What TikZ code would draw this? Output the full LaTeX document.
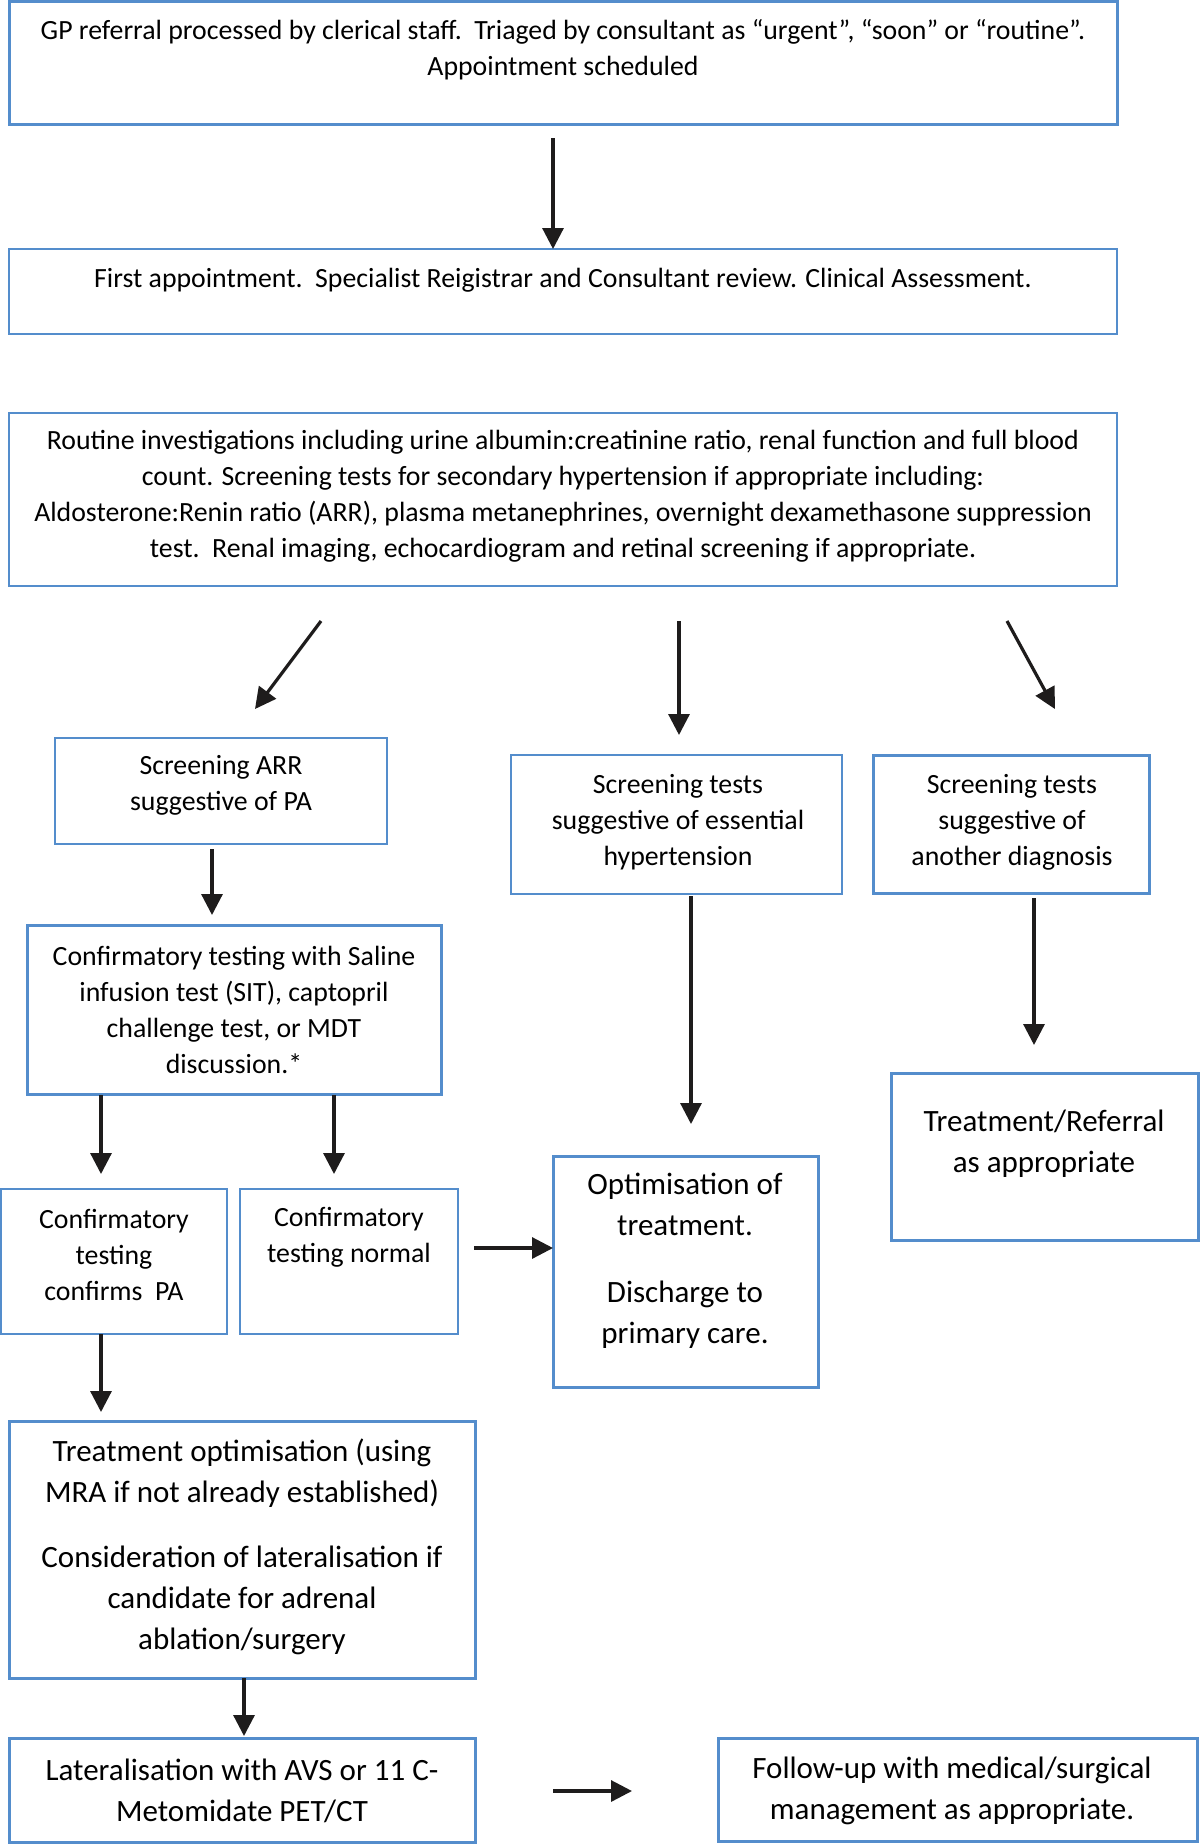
\documentclass[tikz,border=0pt]{standalone}
\usepackage{fontspec}
\setmainfont{Carlito}
\usetikzlibrary{arrows.meta}
\definecolor{boxblue}{RGB}{84,141,204}
\definecolor{arrowblack}{RGB}{30,28,28}
\begin{document}
\begin{tikzpicture}[x=1pt,y=-1pt,
  thinbox/.style={draw=boxblue,line width=1.6pt,fill=none},
  thickbox/.style={draw=boxblue,line width=3pt,fill=none},
  smalltxt/.style={align=center,inner sep=0pt,font=\fontsize{27.8}{36}\selectfont},
  bigtxt/.style={align=center,inner sep=0pt,font=\fontsize{31}{41}\selectfont},
  conn/.style={draw=arrowblack,line width=3.2pt,-{Triangle[length=21pt,width=21pt]}}
]
\useasboundingbox (0,0) rectangle (1200,1844);
\fill[white] (0,0) rectangle (1200,1844);

% boxes
\draw[thickbox] (9,2) rectangle (1117,124);
\draw[thinbox] (9,249) rectangle (1117,334);
\draw[thinbox] (9,413) rectangle (1117,586);
\draw[thinbox] (55,738) rectangle (387,844);
\draw[thinbox] (511,755) rectangle (842,894);
\draw[thickbox] (873,755) rectangle (1149,893);
\draw[thickbox] (27,925) rectangle (441,1094);
\draw[thickbox] (891,1073) rectangle (1198,1240);
\draw[thinbox] (1,1189) rectangle (227,1334);
\draw[thinbox] (240,1189) rectangle (458,1334);
\draw[thickbox] (553,1156) rectangle (818,1387);
\draw[thickbox] (9,1421) rectangle (475,1678);
\draw[thickbox] (9,1738) rectangle (475,1842);
\draw[thickbox] (718,1738) rectangle (1197,1841);

% texts
\node[smalltxt] (t1) at (563,50) {GP referral processed by clerical staff.\ \ Triaged by consultant as “urgent”, “soon” or “routine”.\\Appointment scheduled};
\node[smalltxt] (t2) at (563,280) {First appointment.\ \ Specialist Reigistrar and Consultant review. Clinical Assessment.};
\node[smalltxt] (t3) at (563,496) {Routine investigations including urine albumin:creatinine ratio, renal function and full blood\\count. Screening tests for secondary hypertension if appropriate including:\\Aldosterone:Renin ratio (ARR), plasma metanephrines, overnight dexamethasone suppression\\test.\ \ Renal imaging, echocardiogram and retinal screening if appropriate.};
\node[smalltxt] (t4) at (221,785) {Screening ARR\\suggestive of PA};
\node[smalltxt] (t5) at (678,822) {Screening tests\\suggestive of essential\\hypertension};
\node[smalltxt] (t6) at (1012,822) {Screening tests\\suggestive of\\another diagnosis};
\node[smalltxt] (t7) at (234,1010) {Confirmatory testing with Saline\\infusion test (SIT), captopril\\challenge test, or MDT\\discussion.*};
\node[bigtxt] (t8) at (1044,1144) {Treatment/Referral\\as appropriate};
\node[smalltxt] (t9) at (114,1255) {Confirmatory\\testing\\confirms\ \ PA};
\node[smalltxt] (t10) at (349,1237) {Confirmatory\\testing normal};
\node[bigtxt] (t11) at (685,1261) {Optimisation of\\treatment.\\[26pt]Discharge to\\primary care.};
\node[bigtxt] (t12) at (242,1547) {Treatment optimisation (using\\MRA if not already established)\\[24pt]Consideration of lateralisation if\\candidate for adrenal\\ablation/surgery};
\node[bigtxt] (t13) at (242,1791) {Lateralisation with AVS or 11 C-\\Metomidate PET/CT};
\node[bigtxt] (t14) at (952,1791) {Follow-up with medical/surgical\\management as appropriate.};

% connector ends
\coordinate (a1s) at (553,138);  \coordinate (a1e) at (553,249);
\coordinate (a2s) at (321,621);  \coordinate (a2e) at (255,709);
\coordinate (a3s) at (679,621);  \coordinate (a3e) at (679,735);
\coordinate (a4s) at (1007,621); \coordinate (a4e) at (1055,709);
\coordinate (a5s) at (212,849);  \coordinate (a5e) at (212,915);
\coordinate (a6s) at (691,896);  \coordinate (a6e) at (691,1124);
\coordinate (a7s) at (1034,898); \coordinate (a7e) at (1034,1045);
\coordinate (a8s) at (101,1095); \coordinate (a8e) at (101,1174);
\coordinate (a9s) at (334,1095); \coordinate (a9e) at (334,1174);
\coordinate (a10s) at (474,1248); \coordinate (a10e) at (553,1248);
\coordinate (a11s) at (101,1334); \coordinate (a11e) at (101,1412);
\coordinate (a12s) at (244,1678); \coordinate (a12e) at (244,1736);
\coordinate (a13s) at (553,1791); \coordinate (a13e) at (632,1791);

\draw[conn] (a1s) -- (a1e);
\draw[conn] (a2s) -- (a2e);
\draw[conn] (a3s) -- (a3e);
\draw[conn] (a4s) -- (a4e);
\draw[conn] (a5s) -- (a5e);
\draw[conn] (a6s) -- (a6e);
\draw[conn] (a7s) -- (a7e);
\draw[conn] (a8s) -- (a8e);
\draw[conn] (a9s) -- (a9e);
\draw[conn] (a10s) -- (a10e);
\draw[conn] (a11s) -- (a11e);
\draw[conn] (a12s) -- (a12e);
\draw[conn] (a13s) -- (a13e);
\end{tikzpicture}
\end{document}
